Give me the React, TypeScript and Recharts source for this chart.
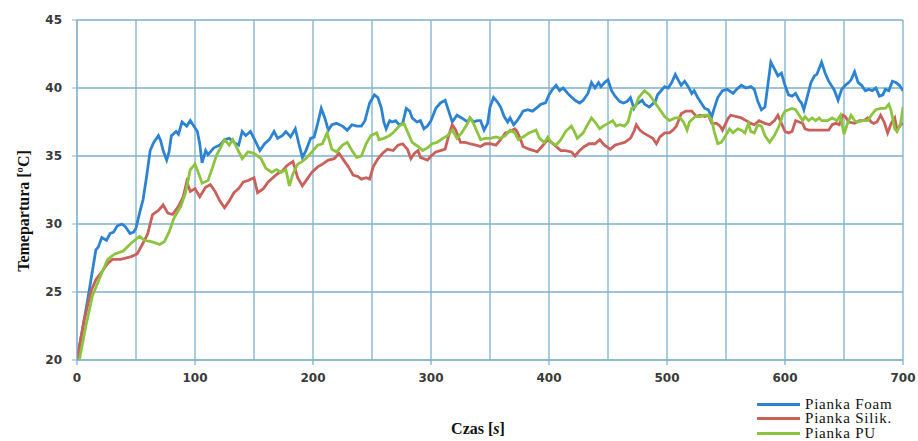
import React from 'react'
import { LineChart, Line, XAxis, YAxis, CartesianGrid, Legend, Label } from 'recharts'

// [time s, temperature °C]
const foam: [number, number][] = [
  [0, 20], [9, 24.4], [16, 28.1], [18, 28.3], [21, 29], [25, 28.8], [28, 29.3], [31, 29.4], [34, 29.85], [38, 30],
  [41, 29.8], [45, 29.3], [48, 29.4], [50, 29.7], [53, 30.8], [56, 31.8], [59, 33.5], [62, 35.4], [65, 36], [69, 36.5],
  [71, 36.1], [73, 35.4], [76, 34.7], [78, 35.3], [80, 36.5], [84, 36.8], [86, 36.6], [89, 37.5], [93, 37.2], [96, 37.6],
  [99, 37.2], [102, 36.8], [104, 35.9], [106, 34.5], [109, 35.4], [111, 35.1], [116, 35.6], [121, 35.8], [125, 36.2], [129, 36.3],
  [133, 36], [137, 35.8], [140, 36.8], [143, 36.5], [147, 36.8], [150, 36.3], [155, 35.4], [159, 35.9], [163, 36.2], [167, 36.8],
  [170, 36.3], [174, 36.5], [177, 36.8], [181, 36.4], [185, 37], [188, 35.9], [191, 34.9], [194, 35.4], [198, 36.3], [201, 36.4],
  [204, 37.4], [207, 38.5], [210, 37.8], [213, 36.9], [216, 37.3], [220, 37.4], [225, 37.2], [229, 36.9], [233, 37.3], [237, 37.2],
  [241, 37.2], [244, 37.6], [248, 38.9], [252, 39.5], [255, 39.3], [258, 38.5], [260, 37.5], [262, 37], [265, 37.6], [267, 37.5],
  [270, 37.6], [273, 37.3], [276, 37.4], [279, 38.5], [282, 38.3], [284, 37.8], [288, 37.5], [291, 37.6], [294, 37], [297, 37.2],
  [300, 37.6], [304, 38.5], [308, 38.9], [312, 39.1], [315, 38.3], [318, 37.5], [322, 38], [326, 37.8], [331, 37.5], [333, 37.8],
  [336, 37.5], [339, 37.6], [342, 37.6], [345, 36.9], [348, 37.4], [350, 38.6], [353, 39.3], [356, 39], [359, 38.6], [362, 37.9],
  [365, 37.5], [367, 37.8], [370, 37.3], [373, 37.6], [376, 38], [378, 38.3], [382, 38.4], [386, 38.3], [389, 38.5], [393, 38.8],
  [397, 38.9], [400, 39.5], [403, 39.9], [406, 40.2], [409, 39.8], [412, 40], [414, 39.8], [417, 39.5], [422, 39.1], [426, 38.9],
  [429, 39.1], [433, 39.6], [436, 40.4], [439, 40], [442, 40.4], [444, 40.1], [447, 40.4], [450, 40.6], [453, 39.8], [456, 39.4],
  [460, 39], [463, 38.9], [466, 39], [469, 39.3], [472, 38.5], [474, 38.8], [479, 39.1], [481, 38.8], [485, 38.6], [490, 39],
  [492, 39.5], [495, 39.8], [498, 40.1], [501, 40], [504, 40.4], [507, 41], [510, 40.5], [512, 40.2], [515, 40.5], [518, 40.1],
  [521, 39.6], [523, 39.8], [526, 39.3], [529, 38.9], [532, 38.5], [535, 38.4], [538, 37.9], [540, 38.5], [543, 39.3], [547, 39.8],
  [551, 39.9], [556, 39.6], [559, 39.9], [563, 40.2], [567, 40], [571, 40.1], [574, 39.9], [577, 39], [580, 38.4], [583, 38.6],
  [585, 39.9], [588, 41.9], [591, 41.4], [594, 40.9], [597, 41.1], [600, 40.2], [603, 39.5], [606, 39.4], [609, 39.6], [612, 39.1],
  [614, 38.9], [616, 38.4], [619, 39.4], [622, 40.4], [625, 40.9], [627, 41], [631, 41.9], [634, 41.1], [637, 40.5], [640, 40.1],
  [642, 39.8], [645, 39.1], [648, 39.9], [651, 40.2], [654, 40.4], [656, 40.6], [659, 41.2], [662, 40.4], [665, 40.2], [668, 39.8],
  [671, 39.9], [674, 39.8], [677, 40], [680, 39.4], [683, 39.5], [685, 39.9], [688, 39.8], [691, 40.5], [694, 40.4], [697, 40.2],
  [700, 39.8],
]

const silik: [number, number][] = [
  [0, 20], [6, 22.9], [12, 25.1], [16, 25.9], [22, 26.6], [26, 27.1], [30, 27.4], [37, 27.4], [46, 27.6], [51, 27.8],
  [56, 28.6], [60, 29.3], [64, 30.7], [69, 31], [73, 31.4], [77, 30.8], [81, 30.7], [86, 31.3], [90, 32], [93, 33.1],
  [96, 32.4], [100, 32.6], [104, 32], [109, 32.7], [113, 32.9], [117, 32.4], [121, 31.7], [125, 31.2], [129, 31.7], [133, 32.3],
  [137, 32.6], [141, 33.1], [145, 33.2], [150, 33.4], [153, 32.3], [158, 32.6], [162, 33.1], [166, 33.4], [170, 33.7], [174, 33.9],
  [178, 34.3], [183, 34.6], [187, 33.4], [191, 32.8], [195, 33.3], [199, 33.8], [204, 34.2], [208, 34.4], [213, 34.7], [218, 34.8],
  [222, 35.2], [226, 34.7], [230, 34.2], [234, 33.6], [238, 33.5], [241, 33.3], [245, 33.4], [248, 33.3], [251, 34.2], [255, 34.8],
  [259, 35.2], [263, 35.5], [268, 35.4], [272, 35.8], [276, 35.9], [280, 35.5], [283, 34.8], [286, 35.2], [289, 35.4], [291, 34.9],
  [294, 34.8], [297, 34.7], [300, 35], [304, 35.3], [308, 35.4], [312, 35.5], [315, 36.5], [318, 37.3], [321, 36.9], [325, 36],
  [329, 36], [333, 35.9], [338, 35.8], [342, 35.7], [346, 35.9], [350, 35.9], [355, 35.8], [359, 36.2], [363, 36.7], [367, 36.8],
  [371, 37], [373, 36.8], [376, 36.2], [378, 35.7], [383, 35.5], [387, 35.4], [390, 35.3], [394, 35.7], [399, 36.2], [402, 36],
  [406, 35.7], [410, 35.4], [414, 35.4], [419, 35.3], [422, 35], [426, 35.4], [430, 35.7], [434, 35.9], [439, 35.9], [443, 36.2],
  [447, 35.8], [452, 35.5], [456, 35.8], [460, 35.9], [464, 36], [469, 36.3], [472, 36.8], [474, 37.3], [477, 36.9], [480, 36.7],
  [484, 36.5], [488, 36.3], [491, 35.9], [494, 36.4], [498, 36.7], [502, 36.7], [505, 36.9], [508, 37.2], [512, 38.1], [516, 38.3],
  [521, 38.3], [525, 37.9], [528, 38], [532, 37.9], [535, 38], [538, 37.4], [542, 37.4], [545, 37.2], [547, 36.9], [552, 37.8],
  [554, 38], [559, 37.9], [563, 37.8], [567, 37.6], [571, 37.4], [574, 37.3], [578, 37.6], [583, 37.4], [587, 37.3], [591, 37.6],
  [594, 38], [597, 37.4], [600, 36.8], [603, 36.7], [606, 36.8], [609, 37.6], [612, 37.5], [615, 37.4], [617, 37], [620, 36.9],
  [625, 36.9], [629, 36.9], [633, 36.9], [637, 36.9], [640, 37.3], [643, 37.4], [646, 37.3], [649, 38], [651, 37.9], [654, 37.5],
  [659, 37.4], [663, 37.6], [667, 37.6], [670, 37.8], [673, 37.5], [675, 37.4], [678, 37.5], [681, 38], [684, 37.5], [687, 36.7],
  [690, 37.4], [693, 37.8], [695, 36.9], [698, 37.3], [700, 37.4],
]

const pu: [number, number][] = [
  [2, 20], [8, 22.7], [13, 24.7], [21, 26.4], [26, 27.4], [32, 27.8], [39, 28], [46, 28.6], [53, 29.1], [57, 28.8],
  [63, 28.7], [70, 28.5], [74, 28.7], [78, 29.4], [82, 30.4], [88, 31.3], [92, 32.3], [96, 34], [100, 34.4], [104, 33.5],
  [106, 33], [111, 33.2], [115, 34.2], [118, 35], [121, 35.5], [125, 36.2], [129, 35.8], [132, 36.2], [136, 35.5], [140, 34.8],
  [145, 35.3], [150, 35.2], [156, 34.8], [160, 34.1], [165, 33.8], [169, 34], [173, 33.8], [177, 34], [180, 32.8], [183, 33.7],
  [187, 34.4], [191, 34.6], [195, 34.9], [200, 35.4], [204, 35.8], [208, 35.9], [212, 36.7], [216, 35.5], [220, 35.3], [225, 35.8],
  [229, 36], [233, 35.4], [237, 34.9], [241, 35], [245, 35.9], [249, 36.5], [254, 36.7], [256, 36.2], [260, 36.3], [265, 36.5],
  [269, 36.8], [273, 37.2], [277, 37.4], [280, 36.8], [284, 36], [289, 35.7], [293, 35.4], [297, 35.6], [301, 35.9], [305, 36],
  [310, 36.3], [314, 36.5], [318, 36.9], [322, 36.3], [326, 36.7], [331, 37.4], [333, 37.8], [336, 37.4], [339, 36.8], [342, 36.2],
  [346, 36.3], [350, 36.3], [355, 36.4], [359, 36.3], [363, 36.5], [367, 36.9], [371, 36.7], [374, 36.2], [378, 36.4], [383, 36.7],
  [389, 36.9], [392, 36.3], [396, 36], [399, 36.4], [402, 36], [406, 35.8], [410, 36.2], [414, 36.8], [419, 37.2], [422, 36.7],
  [424, 36.3], [429, 36.7], [432, 37.2], [436, 37.8], [439, 37.5], [443, 37], [446, 37.2], [450, 37.4], [454, 37.6], [457, 37.2],
  [460, 37.3], [464, 37.2], [467, 37.5], [470, 38.5], [473, 38.6], [476, 39.3], [479, 39.6], [481, 39.8], [485, 39.5], [490, 38.9],
  [494, 38.4], [498, 37.9], [502, 37.6], [507, 37.8], [511, 37.8], [514, 37.5], [517, 36.9], [519, 37.5], [524, 37.9], [528, 37.9],
  [532, 38], [535, 38], [538, 37.6], [540, 36.8], [543, 35.9], [546, 36], [549, 36.4], [553, 37], [556, 36.7], [560, 37],
  [563, 36.9], [566, 36.7], [569, 37.4], [571, 36.8], [574, 36.7], [577, 37.3], [580, 37.2], [583, 36.5], [587, 36], [591, 36.5],
  [595, 37.2], [598, 38], [600, 38.3], [603, 38.4], [606, 38.5], [609, 38.4], [612, 38], [615, 37.6], [617, 37.9], [620, 37.6],
  [623, 37.8], [626, 37.6], [629, 37.8], [631, 37.6], [636, 37.6], [640, 37.8], [644, 37.6], [647, 38], [650, 36.6], [653, 37.4],
  [656, 38], [659, 37.6], [661, 37.5], [666, 37.6], [670, 37.6], [674, 38.1], [677, 38.4], [681, 38.5], [685, 38.5], [688, 38.8],
  [690, 38.3], [693, 37], [695, 36.8], [698, 37.4], [700, 38.6],
]

const xTicks = [0, 50, 100, 150, 200, 250, 300, 350, 400, 450, 500, 550, 600, 650, 700]
const yTicks = [20, 25, 30, 35, 40, 45]

const series = [
  { name: 'Pianka Foam', color: '#2c83d1', points: foam },
  { name: 'Pianka Silik.', color: '#c9605a', points: silik },
  { name: 'Pianka PU', color: '#8cc43f', points: pu },
]

const gridColor = '#7eafcd'
const serif = '"Liberation Serif", "Times New Roman", serif'
const tickFont = { fontFamily: '"DejaVu Sans", sans-serif', fontSize: 12, fontWeight: 700, fill: '#3a3a3a' }

// labels and small tick marks only on every 100 s
function TimeTick(props: any) {
  const { x, y, payload } = props
  if (payload.value % 100 !== 0) return <g />
  return (
    <g>
      <line x1={x} x2={x} y1={y - 13} y2={y - 8} stroke={gridColor} strokeWidth={1.3} />
      <text x={x} y={y} dy="0.71em" textAnchor="middle" {...tickFont}>
        {payload.value}
      </text>
    </g>
  )
}

function LegendBox() {
  return (
    <div style={{ fontFamily: serif, fontSize: 15, color: '#111' }}>
      {series.map(s => (
        <div key={s.name} style={{ display: 'flex', alignItems: 'center', height: 14.5, whiteSpace: 'nowrap' }}>
          <span style={{ display: 'inline-block', width: 43, height: 3, background: s.color, marginRight: 5 }} />
          <span style={{ letterSpacing: 0.8 }}>{s.name}</span>
        </div>
      ))}
    </div>
  )
}

export default function App() {
  return (
    <div style={{ position: 'absolute', left: 0, top: 0, width: 918, height: 441, background: '#fff' }}>
      <LineChart width={918} height={441} margin={{ top: 20, right: 15, bottom: 51, left: 0 }}>
        <CartesianGrid stroke={gridColor} strokeWidth={1.3} />
        <XAxis
          dataKey="t"
          type="number"
          domain={[0, 700]}
          ticks={xTicks}
          interval={0}
          allowDataOverflow
          height={30}
          stroke={gridColor}
          tickLine={false}
          tickSize={5}
          tickMargin={8}
          tick={<TimeTick />}
        >
          <Label
            content={() => (
              <text x={478} y={434} textAnchor="middle" fontFamily={serif} fontSize={16} fontWeight={700} fill="#111">
                Czas [<tspan fontStyle="italic">s</tspan>]
              </text>
            )}
          />
        </XAxis>
        <YAxis
          type="number"
          domain={[20, 45]}
          ticks={yTicks}
          interval={0}
          width={77}
          stroke={gridColor}
          tickSize={5}
          tickMargin={10}
          tick={tickFont}
        >
          <Label
            content={() => (
              <text
                x={23}
                y={211}
                transform="rotate(-90 23 211)"
                textAnchor="middle"
                dominantBaseline="central"
                fontFamily={serif}
                fontSize={16}
                fontWeight={700}
                fill="#111"
              >
                Temepartura [ºC]
              </text>
            )}
          />
        </YAxis>
        <Legend
          layout="vertical"
          align="center"
          verticalAlign="middle"
          wrapperStyle={{ left: 757, top: 397, width: 160 }}
          content={<LegendBox />}
        />
        {series.map(s => (
          <Line
            key={s.name}
            name={s.name}
            data={s.points.map(([t, v]) => ({ t, v }))}
            dataKey="v"
            type="linear"
            stroke={s.color}
            strokeWidth={2.8}
            dot={false}
            activeDot={false}
            isAnimationActive={false}
          />
        ))}
      </LineChart>
    </div>
  )
}
